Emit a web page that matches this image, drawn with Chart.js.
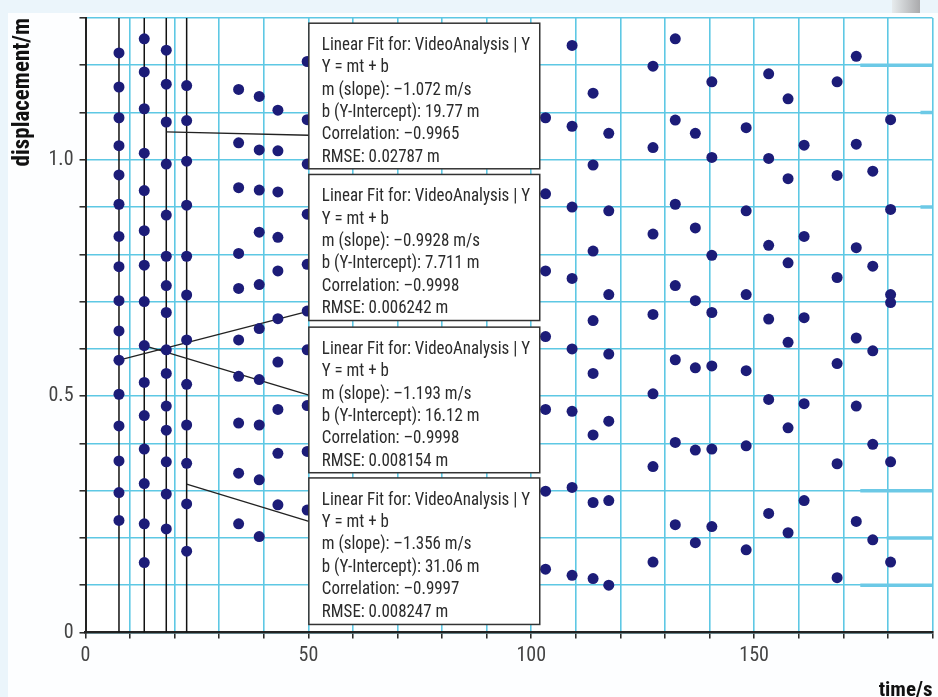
<!DOCTYPE html>
<html>
<head>
<meta charset="utf-8">
<script src="https://cdn.jsdelivr.net/npm/chart.js@4.4.1/dist/chart.umd.min.js"></script>
<style>
  html, body { margin:0; padding:0; background:#fff; }
  #wrap { width:938px; height:697px; }
</style>
</head>
<body>
<div id="wrap"><canvas id="chart" width="938" height="697"></canvas></div>
<script>
// ── Data ─────────────────────────────────────────────
// time of each dot column (s)
const colTimes = [7.51, 13.18, 18.12, 22.69, 34.35, 38.97, 43.16, 49.73,
                  103.2, 109.15, 113.86, 117.38, 127.3, 132.3, 136.8, 140.5,
                  148.2, 153.25, 157.6, 161.2, 168.6, 172.9, 176.6, 180.6];
// displacement of each dot in that column (m)
const colDisp = [
  [1.226,1.154,1.089,1.030,0.968,0.906,0.838,0.774,0.702,0.638,0.576,0.504,0.437,0.363,0.296,0.237],
  [1.256,1.186,1.108,1.014,0.935,0.850,0.777,0.700,0.607,0.529,0.459,0.388,0.315,0.230,0.148],
  [1.232,1.160,1.080,0.991,0.883,0.796,0.734,0.677,0.598,0.548,0.479,0.428,0.361,0.293,0.219],
  [1.157,1.083,0.997,0.904,0.796,0.714,0.619,0.525,0.439,0.358,0.272,0.172],
  [1.149,1.036,0.941,0.802,0.728,0.619,0.542,0.443,0.337,0.230],
  [1.134,1.021,0.936,0.847,0.736,0.643,0.535,0.439,0.323,0.203],
  [1.105,1.019,0.932,0.836,0.765,0.664,0.572,0.472,0.379,0.270],
  [1.208,1.085,0.991,0.885,0.779,0.680,0.598,0.480,0.383,0.259],
  [1.089,0.928,0.765,0.626,0.472,0.299,0.134],
  [1.242,1.071,0.900,0.749,0.600,0.468,0.307,0.121],
  [1.141,0.989,0.807,0.660,0.548,0.418,0.275,0.114],
  [1.056,0.892,0.715,0.589,0.447,0.279,0.100],
  [1.198,1.026,0.843,0.673,0.505,0.351,0.149],
  [1.256,1.084,0.906,0.734,0.577,0.402,0.228],
  [1.056,0.856,0.702,0.560,0.386,0.190],
  [1.165,1.005,0.798,0.677,0.564,0.388,0.224],
  [1.068,0.892,0.715,0.554,0.395,0.175],
  [1.182,1.003,0.819,0.663,0.493,0.252],
  [1.129,0.960,0.782,0.614,0.433,0.211],
  [1.031,0.838,0.666,0.484,0.279],
  [1.165,0.967,0.751,0.569,0.357,0.116],
  [1.219,1.033,0.814,0.623,0.479,0.235],
  [0.976,0.775,0.596,0.398,0.196],
  [1.085,0.895,0.715,0.698,0.361,0.149]
];

// vertical cursor lines (s)
const cursorTimes = [7.51, 13.18, 18.12, 22.69];

// leader lines: from a point on a cursor to the fit box
const leaderFromT = [18.12, 7.51, 13.18, 22.69];
const leaderFromY = [1.059, 0.576, 0.607, 0.314];
const leaderToT   = [50.1, 50.1, 50.1, 50.1];
const leaderToY   = [1.052, 0.680, 0.502, 0.235];

// fit results shown in the boxes
const fitSlope     = ['–1.072', '–0.9928', '–1.193', '–1.356'];
const fitIntercept = ['19.77', '7.711', '16.12', '31.06'];
const fitCorr      = ['–0.9965', '–0.9998', '–0.9998', '–0.9997'];
const fitRmse      = ['0.02787', '0.006242', '0.008154', '0.008247'];

// box extents in data units
const boxLeft = 50.1, boxRight = 101.9;
const boxTop    = [1.289, 0.969, 0.646, 0.327];
const boxBottom = [0.981, 0.660, 0.338, 0.017];

// thicker cyan grid stubs on the right edge
const stubY     = [1.2, 1.1, 0.9, 0.3, 0.2, 0.1];
const stubStart = [173.8, 187.3, 187.3, 173.8, 179.7, 173.8];

const X_LABELS = [0, 50, 100, 150];
const GRID = '#5ec8e4';
const DOT  = '#1c1c78';
const FONT = "'Liberation Sans Narrow', 'Arial Narrow', 'Roboto Condensed', sans-serif";

// ── Datasets ─────────────────────────────────────────
const dots = [];
colTimes.forEach((t, i) => colDisp[i].forEach(v => dots.push({ x: t, y: v })));

const datasets = [{
    type: 'scatter',
    data: dots,
    backgroundColor: DOT,
    borderColor: DOT,
    pointRadius: 5.5,
    borderWidth: 0
}];

leaderFromT.forEach((t, i) => datasets.push({
    type: 'line',
    data: [{ x: t, y: leaderFromY[i] }, { x: leaderToT[i], y: leaderToY[i] }],
    borderColor: '#222', borderWidth: 1.3, pointRadius: 0
}));

cursorTimes.forEach(t => datasets.push({
    type: 'line',
    data: [{ x: t, y: 0 }, { x: t, y: 1.3 }],
    borderColor: '#111', borderWidth: 1.5, pointRadius: 0
}));

stubY.forEach((v, i) => datasets.push({
    type: 'line',
    data: [{ x: stubStart[i], y: v }, { x: 190, y: v }],
    borderColor: '#6cc9e6', borderWidth: 3.5, pointRadius: 0
}));

// ── Plugins ──────────────────────────────────────────
const paper = {
    id: 'paper',
    beforeDraw(chart) {
        const { ctx, width, height, chartArea: a } = chart;
        ctx.save();
        ctx.fillStyle = '#fdfeff';
        ctx.fillRect(0, 0, width, height);
        ctx.fillStyle = '#ebf5fb';
        ctx.fillRect(0, 0, width, 13);
        ctx.fillRect(0, 0, 8, height);
        // page curl shadow, top right
        const g = ctx.createLinearGradient(890, 0, 920, 0);
        g.addColorStop(0, 'rgba(235,240,242,1)');
        g.addColorStop(1, 'rgba(170,170,172,1)');
        ctx.fillStyle = g;
        ctx.fillRect(892, 0, 28, 13);
        ctx.fillStyle = '#fff';
        ctx.fillRect(a.left, a.top, a.right - a.left, a.bottom - a.top);
        ctx.restore();
    }
};

const fitBoxes = {
    id: 'fitBoxes',
    afterDatasetsDraw(chart) {
        const { ctx, scales: { x, y } } = chart;
        ctx.save();
        boxTop.forEach((top, i) => {
            const x0 = x.getPixelForValue(boxLeft), x1 = x.getPixelForValue(boxRight);
            const y0 = y.getPixelForValue(top), y1 = y.getPixelForValue(boxBottom[i]);
            ctx.fillStyle = '#fff';
            ctx.fillRect(x0, y0, x1 - x0, y1 - y0);
            ctx.strokeStyle = '#333';
            ctx.lineWidth = 1.5;
            ctx.strokeRect(x0, y0, x1 - x0, y1 - y0);
            const lines = [
                'Linear Fit for: VideoAnalysis | Y',
                'Y = mt + b',
                `m (slope): ${fitSlope[i]} m/s`,
                `b (Y-Intercept): ${fitIntercept[i]} m`,
                `Correlation: ${fitCorr[i]}`,
                `RMSE: ${fitRmse[i]} m`
            ];
            ctx.save();
            ctx.translate(x0 + 13, y0 + 26.7);
            ctx.scale(0.94, 1);   // the original face is a touch narrower
            ctx.fillStyle = '#2b2b2b';
            ctx.font = `18px ${FONT}`;
            ctx.textBaseline = 'alphabetic';
            lines.forEach((t, j) => ctx.fillText(t, 0, j * 22.4));
            ctx.restore();
        });
        ctx.restore();
    }
};

// ── Chart ────────────────────────────────────────────
new Chart(document.getElementById('chart'), {
    type: 'scatter',
    data: { datasets },
    options: {
        responsive: false,
        animation: false,
        layout: { padding: { left: 0, right: 5, top: 15, bottom: 0 } },
        plugins: { legend: { display: false }, tooltip: { enabled: false } },
        scales: {
            x: {
                type: 'linear', min: 0, max: 190,
                afterFit: s => { s.height = 64.5; },
                grid: { color: GRID, lineWidth: 1.6, tickColor: '#222', tickLength: 6, tickWidth: 1.5 },
                border: { color: '#222', width: 2.5 },
                ticks: {
                    stepSize: 10, autoSkip: false, maxRotation: 0, padding: 5,
                    color: '#444', font: { family: FONT, size: 20 },
                    callback: v => X_LABELS.includes(Math.round(v)) && Math.abs(v - Math.round(v)) < 1e-6 ? String(Math.round(v)) : ''
                },
                title: {
                    display: true, text: 'time/s', align: 'end', color: '#111',
                    font: { family: FONT, size: 21, weight: 'bold' },
                    padding: { top: 0, bottom: -6 }
                }
            },
            y: {
                type: 'linear', min: 0, max: 1.3,
                afterFit: s => { s.width = 85.5; },
                grid: { color: GRID, lineWidth: 1.6, tickColor: '#222', tickLength: 6, tickWidth: 1.5 },
                border: { color: '#222', width: 2 },
                ticks: {
                    stepSize: 0.1, autoSkip: false, padding: 6,
                    color: '#444', font: { family: FONT, size: 20 },
                    callback: v => Math.abs(v) < 1e-6 ? '0' : Math.abs(v - 0.5) < 1e-6 ? '0.5' : Math.abs(v - 1) < 1e-6 ? '1.0' : ''
                },
                title: {
                    display: true, text: 'displacement/m', align: 'end', color: '#111',
                    font: { family: FONT, size: 23, weight: 'bold' },
                    padding: { top: 9, bottom: 0 }
                }
            }
        }
    },
    plugins: [paper, fitBoxes]
});
</script>
</body>
</html>
